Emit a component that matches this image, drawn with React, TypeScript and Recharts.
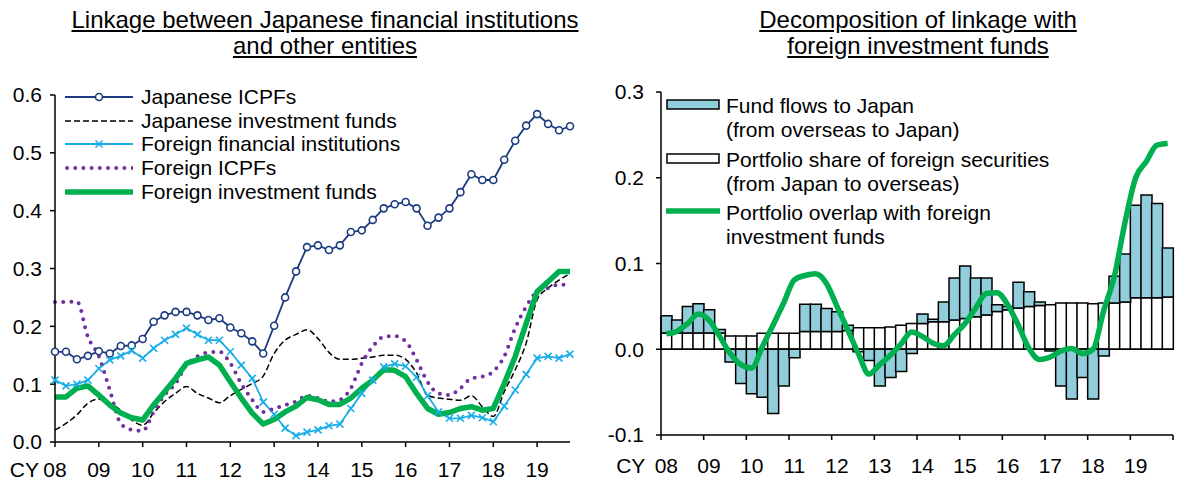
import React from 'react';
import { LineChart, ComposedChart, Line, Bar, XAxis, YAxis, Legend, ReferenceLine } from 'recharts';

// quarterly, CY2008 Q1 .. CY2019 Q4
const years = ['08', '09', '10', '11', '12', '13', '14', '15', '16', '17', '18', '19'];

const jpIcpf = [
  0.156, 0.156, 0.143, 0.149, 0.157, 0.153, 0.166, 0.167, 0.178, 0.208, 0.219, 0.225,
  0.225, 0.219, 0.211, 0.214, 0.198, 0.188, 0.174, 0.153, 0.201, 0.25, 0.295, 0.337,
  0.34, 0.332, 0.34, 0.363, 0.366, 0.384, 0.404, 0.411, 0.415, 0.404, 0.374, 0.388,
  0.404, 0.432, 0.463, 0.453, 0.453, 0.488, 0.521, 0.547, 0.567, 0.55, 0.539, 0.546,
];
const jpFunds = [
  0.021, 0.032, 0.047, 0.067, 0.074, 0.067, 0.055, 0.038, 0.029, 0.05, 0.07, 0.084,
  0.096, 0.084, 0.076, 0.068, 0.08, 0.091, 0.101, 0.114, 0.153, 0.176, 0.186, 0.194,
  0.179, 0.155, 0.143, 0.143, 0.145, 0.147, 0.15, 0.15, 0.143, 0.119, 0.081, 0.076,
  0.074, 0.072, 0.08, 0.061, 0.044, 0.087, 0.125, 0.171, 0.246, 0.266, 0.28, 0.291,
];
const fgnFin = [
  0.107, 0.097, 0.1, 0.107, 0.127, 0.142, 0.149, 0.158, 0.145, 0.162, 0.176, 0.186,
  0.197, 0.186, 0.176, 0.176, 0.156, 0.133, 0.11, 0.069, 0.048, 0.024, 0.011, 0.017,
  0.021, 0.028, 0.031, 0.058, 0.084, 0.107, 0.13, 0.135, 0.131, 0.112, 0.08, 0.052,
  0.041, 0.041, 0.046, 0.042, 0.035, 0.062, 0.09, 0.117, 0.145, 0.148, 0.145, 0.152,
];
const fgnIcpf = [
  0.242, 0.242, 0.243, 0.182, 0.148, 0.09, 0.032, 0.021, 0.019, 0.052, 0.081, 0.101,
  0.133, 0.148, 0.155, 0.156, 0.136, 0.101, 0.073, 0.052, 0.058, 0.064, 0.07, 0.08,
  0.076, 0.07, 0.073, 0.093, 0.136, 0.165, 0.182, 0.183, 0.174, 0.142, 0.104, 0.084,
  0.081, 0.093, 0.11, 0.113, 0.122, 0.148, 0.197, 0.234, 0.26, 0.266, 0.272, 0.272,
];
const fgnFunds = [
  0.078, 0.078, 0.093, 0.097, 0.081, 0.064, 0.05, 0.042, 0.038, 0.064, 0.087, 0.11,
  0.136, 0.142, 0.147, 0.133, 0.104, 0.076, 0.05, 0.031, 0.039, 0.052, 0.062, 0.077,
  0.073, 0.065, 0.065, 0.076, 0.093, 0.107, 0.125, 0.124, 0.113, 0.084, 0.058, 0.048,
  0.051, 0.058, 0.061, 0.055, 0.058, 0.101, 0.148, 0.205, 0.26, 0.277, 0.295, 0.295,
];

const fundFlows = [
  0.02, 0.015, 0.031, 0.034, 0.027, 0.004, -0.015, -0.04, -0.052, -0.056, -0.075, -0.043,
  -0.01, 0.032, 0.032, 0.027, 0.023, 0.006, -0.003, -0.013, -0.043, -0.033, -0.026, -0.005,
  0.011, 0.003, 0.023, 0.049, 0.061, 0.045, 0.043, 0.008, 0.004, 0.03, 0.017, 0.004,
  -0.002, -0.043, -0.058, -0.033, -0.058, -0.008, 0.031, 0.056, 0.108, 0.12, 0.11, 0.057,
];
const portfolioShare = [
  0.019, 0.019, 0.019, 0.019, 0.019, 0.019, 0.0155, 0.0155, 0.0155, 0.0187, 0.0187, 0.0187,
  0.0187, 0.0206, 0.0206, 0.0206, 0.0206, 0.022, 0.025, 0.025, 0.025, 0.026, 0.028, 0.03,
  0.03, 0.032, 0.032, 0.034, 0.036, 0.038, 0.04, 0.044, 0.046, 0.048, 0.05, 0.051,
  0.052, 0.054, 0.054, 0.054, 0.053, 0.054, 0.054, 0.055, 0.06, 0.06, 0.06, 0.061,
];
const overlap = [
  0.018, 0.021, 0.03, 0.041, 0.034, 0.015, -0.005, -0.018, -0.022, 0.003, 0.028, 0.054,
  0.081, 0.086, 0.088, 0.077, 0.05, 0.023, -0.005, -0.029, -0.018, -0.007, 0.006, 0.02,
  0.015, 0.007, 0.004, 0.017, 0.03, 0.048, 0.065, 0.066, 0.052, 0.028, 0.001, -0.012,
  -0.009, -0.002, 0.001, -0.005, 0.0, 0.045, 0.085, 0.148, 0.2, 0.219, 0.238, 0.24,
];

const leftData = jpIcpf.map((v, i) => ({
  t: i,
  jpIcpf: v,
  jpFunds: jpFunds[i],
  fgnFin: fgnFin[i],
  fgnIcpf: fgnIcpf[i],
  fgnFunds: fgnFunds[i],
}));
const rightData = fundFlows.map((v, i) => ({
  t: i + 0.5,
  flows: v,
  share: portfolioShare[i],
  overlap: overlap[i],
}));

const FONT = '"Liberation Sans", Arial, sans-serif';
const NAVY = '#1b3a80';
const CYAN = '#1aaee8';
const PURPLE = '#7030a0';
const GREEN = '#00b050';
const LIGHTBLUE = '#92cddc';

const RIGHT_W = 587;
const RIGHT_YAXIS = 71;
const RIGHT_MR = 4;
const HALF_BAND = (RIGHT_W - RIGHT_YAXIS - RIGHT_MR) / 48 / 2;

const tickFont = { fontSize: 21, fill: '#000', fontFamily: FONT };

const CrossDot = (props: any) => {
  const { cx, cy, index } = props;
  if (cx == null || cy == null) return <g key={`x${index}`} />;
  const s = 3.5;
  return (
    <path
      key={`x${index}`}
      d={`M${cx - s},${cy - s}L${cx + s},${cy + s}M${cx - s},${cy + s}L${cx + s},${cy - s}`}
      stroke={CYAN}
      strokeWidth={1.6}
    />
  );
};

const makeTick = (shift: number, cyGap: number) => (props: any) => {
  const { x, y, payload } = props;
  const i = Math.round(payload.value / 4);
  if (i >= years.length) return <g />;
  return (
    <g>
      <text x={x + shift} y={y} dy="0.71em" textAnchor="middle" {...tickFont}>
        {years[i]}
      </text>
      {i === 0 && (
        <text x={x + shift - cyGap} y={y} dy="0.71em" textAnchor="end" {...tickFont}>
          CY
        </text>
      )}
    </g>
  );
};

const leftKeys = [
  { name: 'Japanese ICPFs', kind: 'circle' },
  { name: 'Japanese investment funds', kind: 'dash' },
  { name: 'Foreign financial institutions', kind: 'cross' },
  { name: 'Foreign ICPFs', kind: 'dot' },
  { name: 'Foreign investment funds', kind: 'thick' },
];

const LeftSymbol = ({ kind }: { kind: string }) => (
  <svg width={68} height={14} style={{ display: 'block', flex: 'none' }}>
    {kind === 'circle' && (
      <>
        <line x1={0} y1={7} x2={68} y2={7} stroke={NAVY} strokeWidth={1.8} />
        <circle cx={34} cy={7} r={3.5} fill="#fff" stroke={NAVY} strokeWidth={1.6} />
      </>
    )}
    {kind === 'dash' && <line x1={0} y1={7} x2={68} y2={7} stroke="#000" strokeWidth={1.5} strokeDasharray="6 3" />}
    {kind === 'cross' && (
      <>
        <line x1={0} y1={7} x2={68} y2={7} stroke={CYAN} strokeWidth={1.8} />
        <path d="M30.5,3.5L37.5,10.5M30.5,10.5L37.5,3.5" stroke={CYAN} strokeWidth={1.6} />
      </>
    )}
    {kind === 'dot' && (
      <line x1={2} y1={7} x2={68} y2={7} stroke={PURPLE} strokeWidth={4} strokeDasharray="0 8.2" strokeLinecap="round" />
    )}
    {kind === 'thick' && <line x1={1} y1={7} x2={67} y2={7} stroke={GREEN} strokeWidth={5.5} strokeLinecap="round" />}
  </svg>
);

const LeftLegend = () => (
  <div style={{ fontFamily: FONT, fontSize: 21, color: '#000' }}>
    {leftKeys.map((k) => (
      <div key={k.name} style={{ display: 'flex', alignItems: 'center', height: 23.7, whiteSpace: 'nowrap' }}>
        <LeftSymbol kind={k.kind} />
        <span style={{ marginLeft: 8 }}>{k.name}</span>
      </div>
    ))}
  </div>
);

const rightKeys = [
  { lines: ['Fund flows to Japan', '(from overseas to Japan)'], kind: 'blue' },
  { lines: ['Portfolio share of foreign securities', '(from Japan to overseas)'], kind: 'white' },
  { lines: ['Portfolio overlap with foreign', 'investment funds'], kind: 'line' },
];

const RightLegend = () => (
  <div style={{ fontFamily: FONT, fontSize: 21, color: '#000' }}>
    {rightKeys.map((k) => (
      <div key={k.kind} style={{ display: 'flex', alignItems: 'flex-start', marginBottom: 5.5, whiteSpace: 'nowrap' }}>
        <svg width={54} height={24} style={{ display: 'block', flex: 'none' }}>
          {k.kind === 'blue' && <rect x={1} y={6} width={52} height={9} fill={LIGHTBLUE} stroke="#000" strokeWidth={1.5} />}
          {k.kind === 'white' && <rect x={1} y={6} width={52} height={9} fill="#fff" stroke="#000" strokeWidth={1.5} />}
          {k.kind === 'line' && <line x1={1} y1={10} x2={53} y2={10} stroke={GREEN} strokeWidth={5.5} strokeLinecap="round" />}
        </svg>
        <div style={{ marginLeft: 6, lineHeight: '24px' }}>
          {k.lines.map((l) => (
            <div key={l}>{l}</div>
          ))}
        </div>
      </div>
    ))}
  </div>
);

const titleStyle: React.CSSProperties = {
  position: 'absolute',
  top: 7,
  textAlign: 'center',
  fontFamily: FONT,
  fontSize: 24,
  lineHeight: '26px',
  textDecoration: 'underline',
  color: '#000',
};

export default function App() {
  return (
    <div style={{ position: 'absolute', left: 0, top: 0, width: 1177, height: 487, background: '#fff', overflow: 'hidden' }}>
      <div style={{ ...titleStyle, left: 0, width: 650 }}>
        <div>Linkage between Japanese financial institutions</div>
        <div>and other entities</div>
      </div>
      <div style={{ ...titleStyle, left: 660, width: 516 }}>
        <div>Decomposition of linkage with</div>
        <div>foreign investment funds</div>
      </div>

      <div style={{ position: 'absolute', left: 0, top: 0 }}>
        <LineChart width={590} height={487} data={leftData} margin={{ top: 95, right: 20, bottom: 0, left: 0 }}>
          <XAxis
            type="number"
            dataKey="t"
            domain={[0, 47]}
            ticks={[0, 4, 8, 12, 16, 20, 24, 28, 32, 36, 40, 44]}
            height={45}
            tickSize={5}
            tickMargin={15}
            axisLine={{ stroke: '#000', strokeWidth: 1.5 }}
            tickLine={{ stroke: '#000', strokeWidth: 1.5 }}
            tick={makeTick(0, 16)}
            allowDecimals={false}
          />
          <YAxis
            domain={[0, 0.6]}
            ticks={[0, 0.1, 0.2, 0.3, 0.4, 0.5, 0.6]}
            width={55}
            tickSize={5}
            tickMargin={8}
            tickFormatter={(v: number) => v.toFixed(1)}
            axisLine={{ stroke: '#000', strokeWidth: 1.5 }}
            tickLine={{ stroke: '#000', strokeWidth: 1.5 }}
            tick={tickFont}
          />
          <Legend
            layout="vertical"
            align="center"
            verticalAlign="middle"
            wrapperStyle={{ left: 65, top: 85, width: 420 }}
            content={() => <LeftLegend />}
          />
          <Line
            dataKey="jpIcpf"
            type="linear"
            stroke={NAVY}
            strokeWidth={1.8}
            dot={{ r: 3.5, fill: '#fff', stroke: NAVY, strokeWidth: 1.6 }}
            activeDot={false}
            isAnimationActive={false}
          />
          <Line
            dataKey="jpFunds"
            type="monotone"
            stroke="#000"
            strokeWidth={1.5}
            strokeDasharray="6 3"
            dot={false}
            activeDot={false}
            isAnimationActive={false}
          />
          <Line
            dataKey="fgnFin"
            type="linear"
            stroke={CYAN}
            strokeWidth={1.8}
            dot={CrossDot}
            activeDot={false}
            isAnimationActive={false}
          />
          <Line
            dataKey="fgnIcpf"
            type="monotone"
            stroke={PURPLE}
            strokeWidth={4}
            strokeDasharray="0 8.2"
            strokeLinecap="round"
            dot={false}
            activeDot={false}
            isAnimationActive={false}
          />
          <Line
            dataKey="fgnFunds"
            type="linear"
            stroke={GREEN}
            strokeWidth={5.5}
            strokeLinejoin="round"
            dot={false}
            activeDot={false}
            isAnimationActive={false}
          />
        </LineChart>
      </div>

      <div style={{ position: 'absolute', left: 590, top: 0 }}>
        <ComposedChart
          width={RIGHT_W}
          height={487}
          data={rightData}
          stackOffset="sign"
          barCategoryGap={0}
          barGap={0}
          margin={{ top: 92, right: RIGHT_MR, bottom: 0, left: 0 }}
        >
          <XAxis
            type="number"
            dataKey="t"
            domain={[0, 48]}
            ticks={[0, 4, 8, 12, 16, 20, 24, 28, 32, 36, 40, 44, 48]}
            height={52}
            tickSize={5}
            tickMargin={18}
            axisLine={{ stroke: '#000', strokeWidth: 1.5 }}
            tickLine={{ stroke: '#000', strokeWidth: 1.5 }}
            tick={makeTick(HALF_BAND, 21)}
          />
          <YAxis
            domain={[-0.1, 0.3]}
            ticks={[-0.1, 0, 0.1, 0.2, 0.3]}
            width={RIGHT_YAXIS}
            tickSize={5}
            tickMargin={12}
            tickFormatter={(v: number) => v.toFixed(1)}
            axisLine={{ stroke: '#000', strokeWidth: 1.5 }}
            tickLine={{ stroke: '#000', strokeWidth: 1.5 }}
            tick={tickFont}
          />
          <Legend
            layout="vertical"
            align="center"
            verticalAlign="middle"
            wrapperStyle={{ left: 76, top: 94, width: 440 }}
            content={() => <RightLegend />}
          />
          <Bar dataKey="share" stackId="a" fill="#fff" stroke="#000" strokeWidth={1.5} isAnimationActive={false} />
          <Bar dataKey="flows" stackId="a" fill={LIGHTBLUE} stroke="#000" strokeWidth={1.5} isAnimationActive={false} />
          <ReferenceLine y={0} stroke="#000" strokeWidth={1.5} />
          <Line
            dataKey="overlap"
            type="monotone"
            stroke={GREEN}
            strokeWidth={5.5}
            dot={false}
            activeDot={false}
            isAnimationActive={false}
          />
        </ComposedChart>
      </div>
    </div>
  );
}
